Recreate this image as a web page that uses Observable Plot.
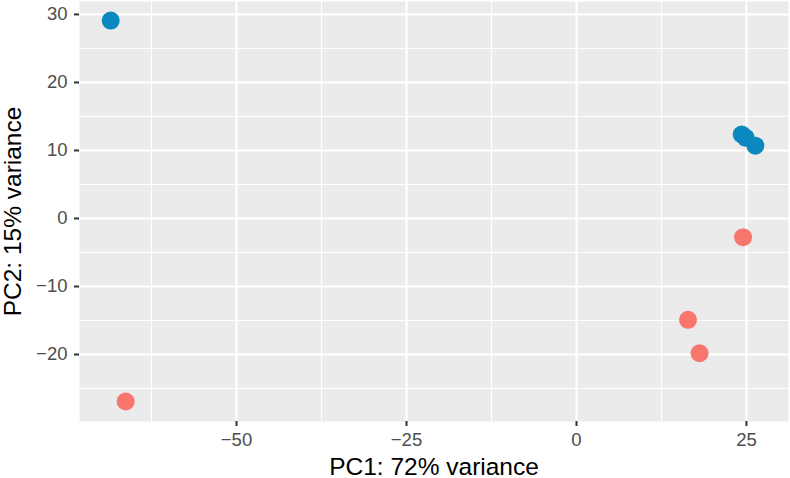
<!DOCTYPE html>
<html><head><meta charset="utf-8">
<script src="https://cdn.jsdelivr.net/npm/d3@7"></script>
<script src="https://cdn.jsdelivr.net/npm/@observablehq/plot@0.6"></script>
<style>body{margin:0;background:#fff;} #chart svg{display:block;}</style>
</head><body><div id="chart"></div>
<script>
const sampleGroup = ["B", "B", "B", "B", "A", "A", "A", "A"];
const pc1 = [-68.5, 24.3, 24.9, 26.3, -66.3, 24.5, 16.4, 18.1];
const pc2 = [29.1, 12.35, 11.85, 10.7, -26.9, -2.75, -14.9, -19.8];
const groupColors = {A: "#F8766D", B: "#0A88BF"};
const xMajor = [-50, -25, 0, 25];
const xMinor = [-62.5, -37.5, -12.5, 12.5];
const yMajor = [-20, -10, 0, 10, 20, 30];
const yMinor = [-25, -15, -5, 5, 15, 25];
const xTitle = "PC1: 72% variance";
const yTitle = "PC2: 15% variance";

const data = pc1.map((x, i) => ({pc1: x, pc2: pc2[i], group: sampleGroup[i]}));
const fmt = d => d < 0 ? "\u2212" + Math.abs(d) : String(d);

const chart = Plot.plot({
  width: 790,
  height: 478,
  marginLeft: 79,
  marginRight: 2,
  marginTop: 1,
  marginBottom: 57,
  style: {fontFamily: "'Liberation Sans', Arial, sans-serif", fontSize: "18.5px", background: "#fff", overflow: "visible"},
  x: {domain: [-73.09, 31.18]},
  y: {domain: [-29.85, 31.9]},
  marks: [
    Plot.frame({fill: "#EBEBEB", stroke: null}),
    Plot.ruleX(xMinor, {stroke: "#fff", strokeWidth: 1, strokeOpacity: 1}),
    Plot.ruleY(yMinor, {stroke: "#fff", strokeWidth: 1, strokeOpacity: 1}),
    Plot.ruleX(xMajor, {stroke: "#fff", strokeWidth: 2.1, strokeOpacity: 1}),
    Plot.ruleY(yMajor, {stroke: "#fff", strokeWidth: 2.1, strokeOpacity: 1}),
    Plot.axisX(xMajor, {tickSize: 5, tickPadding: 6, stroke: "#333", strokeWidth: 2, fill: "#4D4D4D", fontSize: 18.5, tickFormat: fmt, label: null}),
    Plot.axisY(yMajor, {tickSize: 5, tickPadding: 7, stroke: "#333", strokeWidth: 2, fill: "#4D4D4D", fontSize: 18.5, tickFormat: fmt, label: null}),
    Plot.dot(data, {x: "pc1", y: "pc2", r: 9, fill: d => groupColors[d.group], stroke: null}),
    Plot.text([xTitle], {frameAnchor: "bottom", dy: 45.2, lineAnchor: "middle", textAnchor: "middle", fontSize: 24.5, fill: "#000", text: d => d}),
    Plot.text([yTitle], {frameAnchor: "left", dx: -66.3, rotate: -90, lineAnchor: "middle", textAnchor: "middle", fontSize: 24.5, fill: "#000", text: d => d})
  ]
});
document.getElementById("chart").appendChild(chart);
</script>
</body></html>
